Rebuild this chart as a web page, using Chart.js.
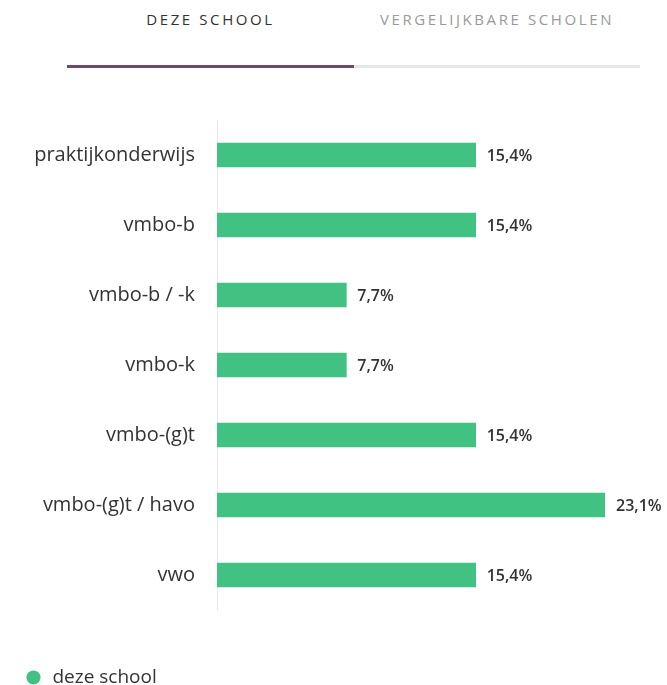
<!DOCTYPE html>
<html>
<head>
<meta charset="utf-8">
<script src="https://cdn.jsdelivr.net/npm/chart.js@4.4.1/dist/chart.umd.min.js"></script>
<style>
  html, body { margin: 0; padding: 0; background: #fff; }
  body { width: 667px; height: 685px; position: relative; overflow: hidden; font-family: "Open Sans", sans-serif; }
  .tab { position: absolute; top: 9px; font-size: 15px; letter-spacing: 2.6px; text-align: center; }
  #tab1 { left: 67px; width: 287px; color: #333; }
  #tab2 { left: 354px; width: 286px; color: #9a9a9a; }
  #line1 { position: absolute; left: 67px; top: 65px; width: 287px; height: 3px; background: #6d4a6b; }
  #line2 { position: absolute; left: 354px; top: 65px; width: 286px; height: 3px; background: #e6e6e6; }
  #wrap { position: absolute; left: 0; top: 90px; width: 667px; height: 595px; }
</style>
</head>
<body>
<div class="tab" id="tab1">DEZE SCHOOL</div>
<div class="tab" id="tab2">VERGELIJKBARE SCHOLEN</div>
<div id="line1"></div>
<div id="line2"></div>
<div id="wrap"><canvas id="chart"></canvas></div>
<script>
// data
const levels = ['praktijkonderwijs', 'vmbo-b', 'vmbo-b / -k', 'vmbo-k', 'vmbo-(g)t', 'vmbo-(g)t / havo', 'vwo'];
const schoolPct = [15.4, 15.4, 7.7, 7.7, 15.4, 23.1, 15.4];
const seriesName = 'deze school';

const GREEN = '#41c182';
const FONT = '"Open Sans", sans-serif';

// waarde-labels rechts van de balken
const valueLabels = {
  id: 'valueLabels',
  afterDatasetsDraw(chart) {
    const ctx = chart.ctx;
    const meta = chart.getDatasetMeta(0);
    ctx.save();
    ctx.font = '600 16px ' + FONT;
    ctx.fillStyle = '#333';
    ctx.textBaseline = 'middle';
    meta.data.forEach((bar, i) => {
      const txt = String(schoolPct[i]).replace('.', ',') + '%';
      ctx.fillText(txt, bar.x + 11, bar.y + 1);
    });
    ctx.restore();
  }
};

// legenda lager zetten, los van het plotgebied
const legendSpace = {
  id: 'legendSpace',
  afterInit(chart) {
    const lg = chart.legend;
    const fit = lg.fit;
    lg.fit = function () { fit.call(this); this.height = 75; };
  },
  afterLayout(chart) {
    chart.legend.top += 50;
    chart.legend.bottom += 50;
  }
};

new Chart(document.getElementById('chart').getContext('2d'), {
  type: 'bar',
  data: {
    labels: levels,
    datasets: [{
      label: seriesName,
      data: schoolPct,
      backgroundColor: GREEN,
      borderWidth: 0,
      barThickness: 24,
    }]
  },
  options: {
    indexAxis: 'y',
    responsive: true,
    maintainAspectRatio: false,
    animation: false,
    layout: { padding: { top: 30, right: 62, left: 16, bottom: 0 } },
    plugins: {
      legend: {
        position: 'bottom',
        align: 'start',
        labels: {
          usePointStyle: true,
          pointStyle: 'circle',
          boxWidth: 19, boxHeight: 10,
          padding: 8,
          color: '#333',
          font: { family: FONT, size: 19 },
        }
      },
      tooltip: { enabled: false },
    },
    scales: {
      x: { display: false, min: 0, max: 23.1 },
      y: {
        grid: { display: false },
        border: { display: true, color: '#ececec', width: 1 },
        ticks: { color: '#333', padding: 14, font: { family: FONT, size: 20 } },
        afterFit(scale) { scale.width = 201; }
      }
    }
  },
  plugins: [valueLabels, legendSpace]
});
</script>
</body>
</html>
